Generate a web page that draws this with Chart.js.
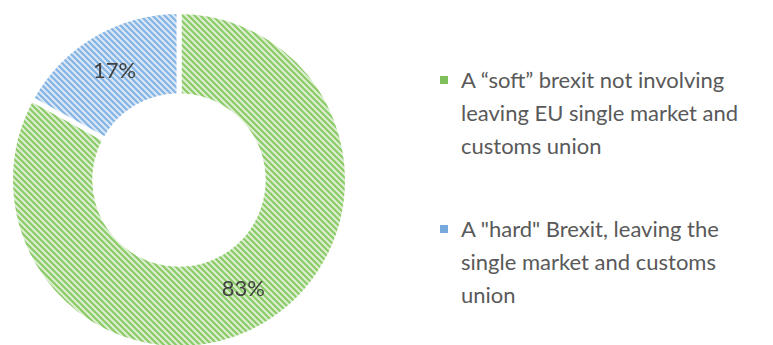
<!DOCTYPE html>
<html>
<head>
<meta charset="utf-8">
<script src="https://cdn.jsdelivr.net/npm/chart.js@4"></script>
<style>
    html, body { margin: 0; padding: 0; background: #fff; overflow: hidden; }
    body { width: 773px; height: 345px; position: relative; font-family: Lato, "Open Sans", sans-serif; }
    #chartBox { position: absolute; left: 8px; top: 9px; width: 342px; height: 342px; }
    #legend { position: absolute; left: 438px; top: 63px; width: 335px; }
    .legend-item { position: relative; padding-left: 23px; font-size: 22px; line-height: 33px; color: #595959; margin-bottom: 50px; }
    .legend-item .swatch { position: absolute; left: 2px; top: 13px; width: 8px; height: 8px; }
</style>
</head>
<body>
<div id="chartBox"><canvas id="brexitChart"></canvas></div>
<div id="legend"></div>
<script>
// Survey answers: share of respondents per option
const categories = [
    ['A \u201csoft\u201d brexit not involving', 'leaving EU single market and', 'customs union'],
    ['A "hard" Brexit, leaving the', 'single market and customs', 'union']
];
const shares = [83, 17];

const lightColors = ['#dbeecf', '#d9e7f7'];
const stripeColors = ['#8aca66', '#82b3e3'];
const swatchColors = ['#7fbf5c', '#78a9dc'];

// small diagonal hatch tile, repeated over each slice
function makeHatch(bg, fg) {
    const tile = document.createElement('canvas');
    tile.width = 6;
    tile.height = 6;
    const g = tile.getContext('2d');
    g.fillStyle = bg;
    g.fillRect(0, 0, 6, 6);
    g.strokeStyle = fg;
    g.lineWidth = 2;
    g.beginPath();
    g.moveTo(-1, -1); g.lineTo(7, 7);
    g.moveTo(-1, 5); g.lineTo(1, 7);
    g.moveTo(5, -1); g.lineTo(7, 1);
    g.stroke();
    return tile;
}

const tiles = lightColors.map((c, i) => makeHatch(c, stripeColors[i]));
const ctx = document.getElementById('brexitChart').getContext('2d');
const patterns = tiles.map(t => ctx.createPattern(t, 'repeat'));

// percentage text drawn in the middle of each slice
const sliceLabels = {
    id: 'sliceLabels',
    afterDatasetsDraw(chart) {
        const c = chart.ctx;
        const meta = chart.getDatasetMeta(0);
        const total = shares.reduce((a, b) => a + b, 0);
        c.save();
        c.font = '22px Lato, "Open Sans", sans-serif';
        c.fillStyle = '#404040';
        c.textAlign = 'center';
        c.textBaseline = 'middle';
        meta.data.forEach((arc, i) => {
            const pos = arc.tooltipPosition();
            c.fillText(Math.round(shares[i] / total * 100) + '%', pos.x, pos.y);
        });
        c.restore();
    }
};

new Chart(ctx, {
    type: 'doughnut',
    data: {
        labels: categories.map(l => l.join(' ')),
        datasets: [{
            data: shares,
            backgroundColor: patterns,
            borderColor: '#ffffff',
            borderWidth: 5
        }]
    },
    options: {
        responsive: true,
        maintainAspectRatio: false,
        animation: false,
        events: [],
        cutout: '50%',
        layout: { padding: 0 },
        plugins: {
            legend: { display: false },
            tooltip: { enabled: false }
        }
    },
    plugins: [sliceLabels]
});

// legend on the right
const legendEl = document.getElementById('legend');
categories.forEach((lines, i) => {
    const item = document.createElement('div');
    item.className = 'legend-item';
    const sw = document.createElement('span');
    sw.className = 'swatch';
    sw.style.backgroundColor = swatchColors[i];
    item.appendChild(sw);
    lines.forEach((line, j) => {
        if (j > 0) item.appendChild(document.createElement('br'));
        item.appendChild(document.createTextNode(line));
    });
    legendEl.appendChild(item);
});
</script>
</body>
</html>
